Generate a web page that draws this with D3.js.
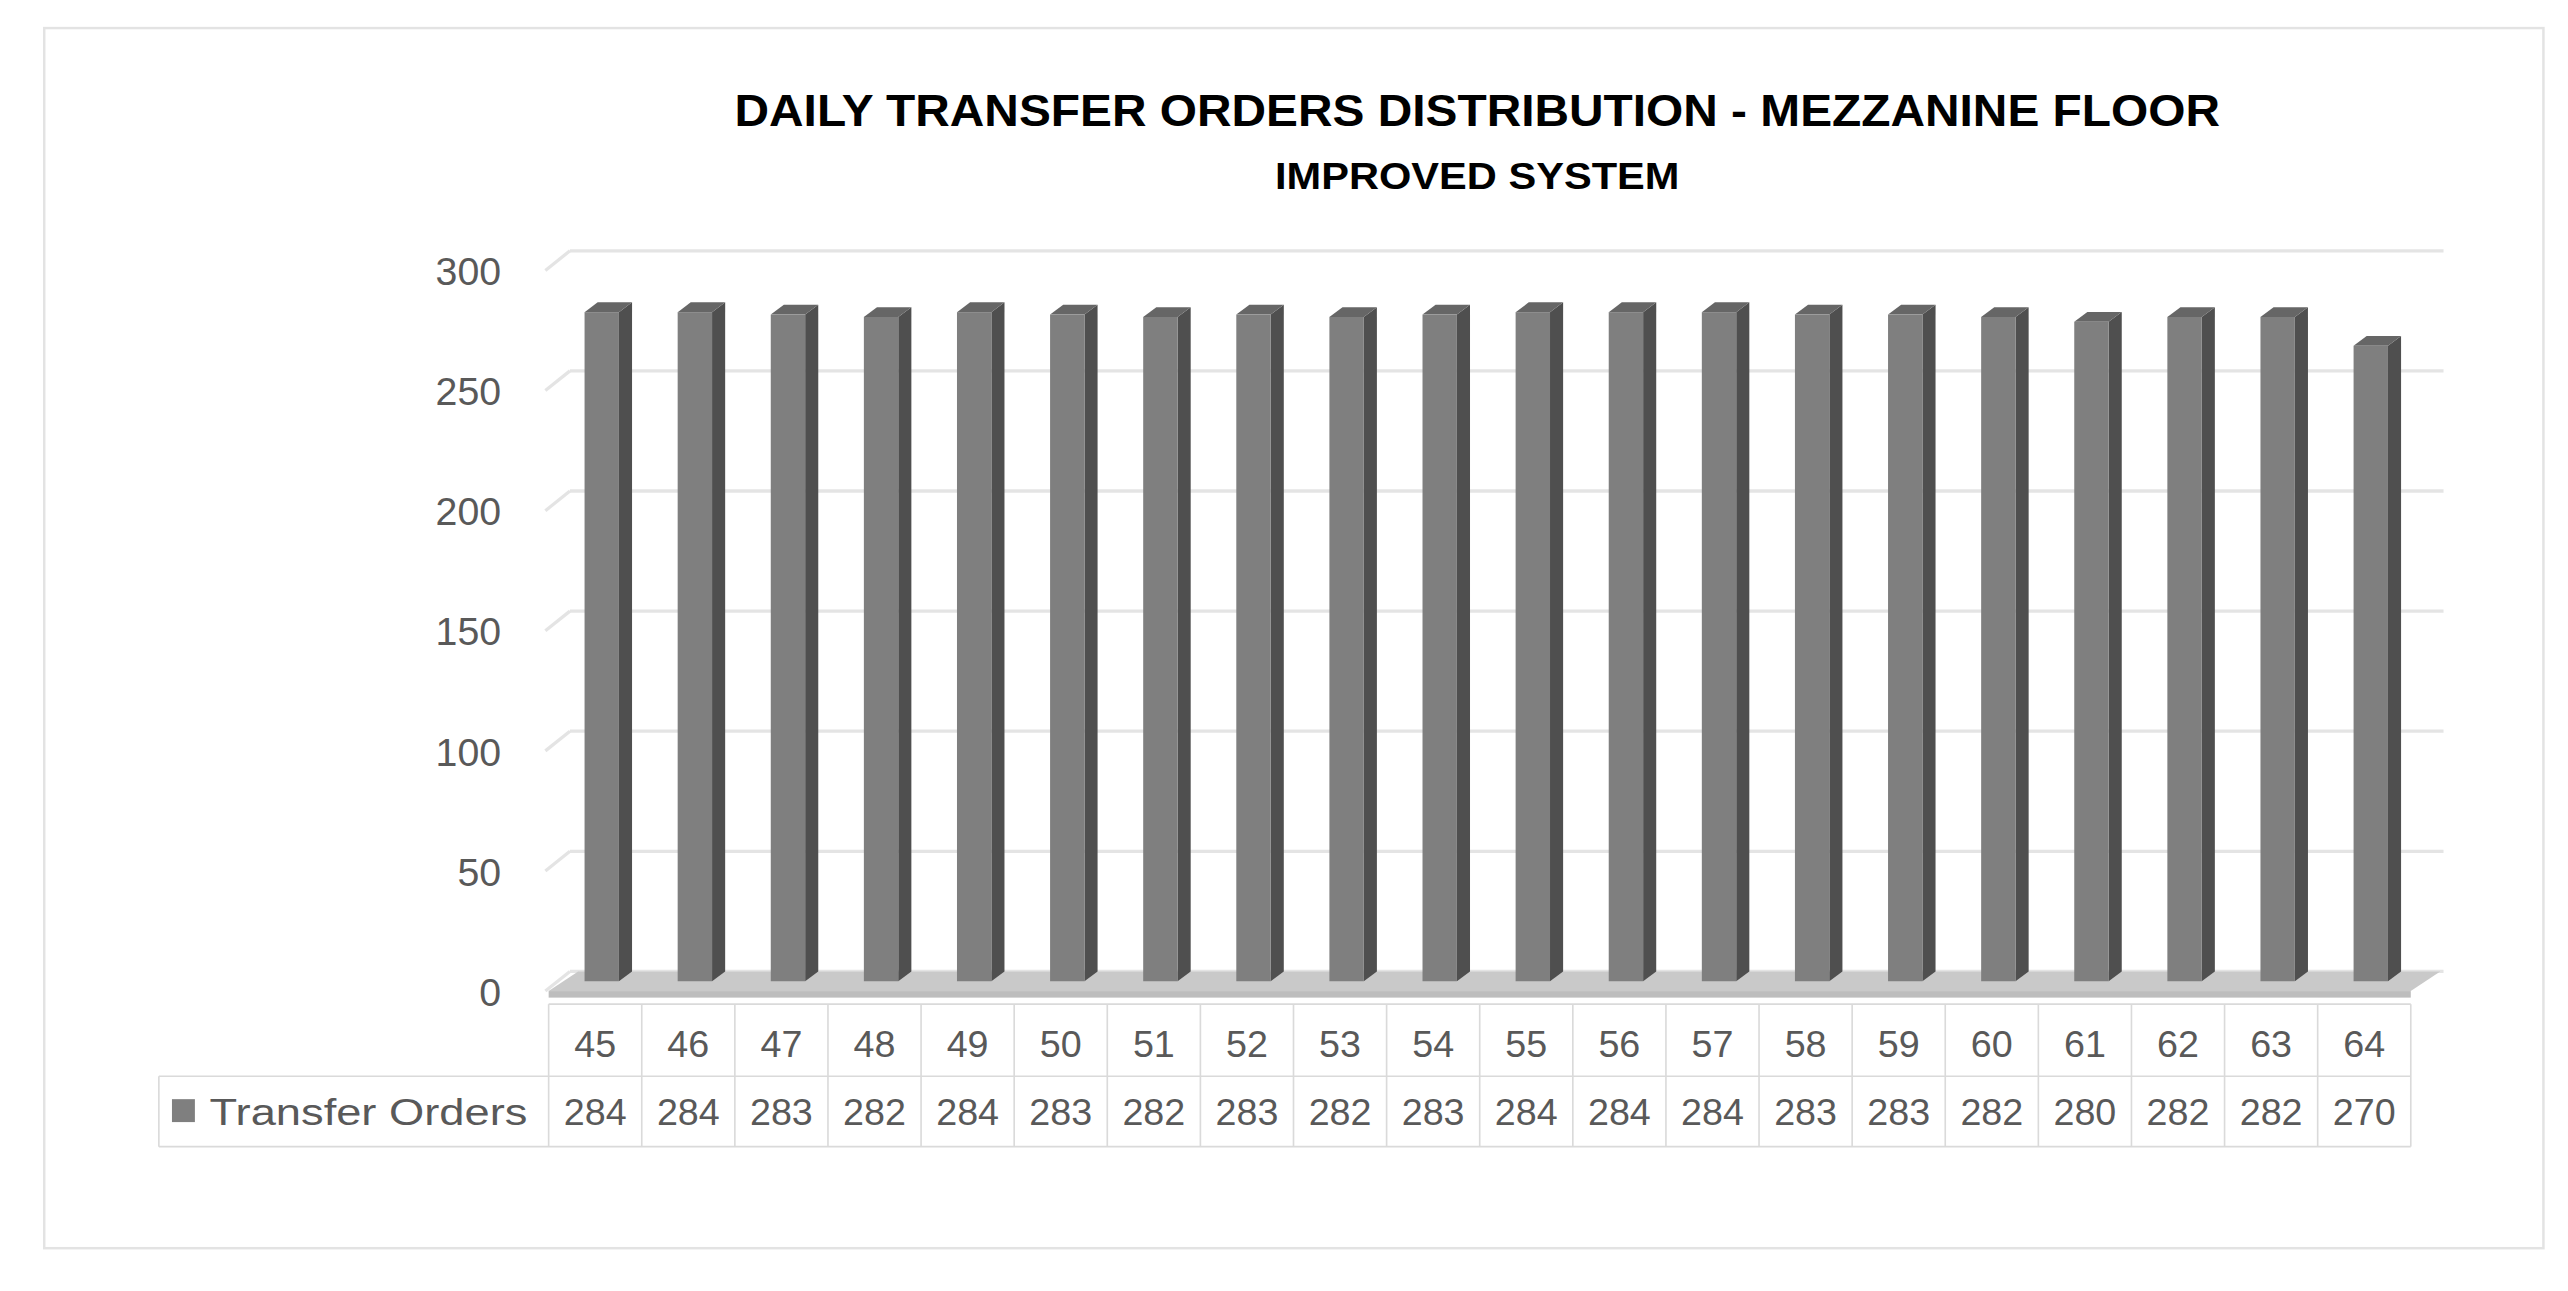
<!DOCTYPE html>
<html><head><meta charset="utf-8">
<script src="https://cdn.jsdelivr.net/npm/d3@7"></script>
<style>body{margin:0;background:#fff}svg{display:block}</style>
</head><body>
<script>
const categories = ["45","46","47","48","49","50","51","52","53","54","55","56","57","58","59","60","61","62","63","64"];
const values = [284,284,283,282,284,283,282,283,282,283,284,284,284,283,283,282,280,282,282,270];
const yTicks = [0,50,100,150,200,250,300];
const seriesName = "Transfer Orders";

const svg = d3.select("body").append("svg")
  .attr("width",2568).attr("height",1291)
  .attr("viewBox","0 0 1568 788");
const font = "'Liberation Sans', Arial, sans-serif";
const txt = "#595959";

svg.append("rect").attr("x",27).attr("y",17).attr("width",1526).attr("height",745)
  .attr("fill","#fff").attr("stroke","#e3e3e3").attr("stroke-width",1.5);

svg.append("text").attr("x",902).attr("y",77).attr("text-anchor","middle")
  .attr("font-family",font).attr("font-weight","bold").attr("font-size",27).attr("fill","#000")
  .attr("textLength",907).attr("lengthAdjust","spacingAndGlyphs")
  .text("DAILY TRANSFER  ORDERS DISTRIBUTION - MEZZANINE FLOOR");
svg.append("text").attr("x",902).attr("y",115).attr("text-anchor","middle")
  .attr("font-family",font).attr("font-weight","bold").attr("font-size",23).attr("fill","#000")
  .attr("textLength",247).attr("lengthAdjust","spacingAndGlyphs")
  .text("IMPROVED SYSTEM");

const x = d3.scaleBand().domain(categories).range([335,1472]);
const y = d3.scaleLinear().domain([0,300]).range([605,165]);
const dx = 15, dy = -12;

// gridlines (back wall + side)
const g = svg.append("g");
yTicks.forEach(t=>{
  g.append("line").attr("x1",333+dx).attr("x2",1492).attr("y1",y(t)+dy).attr("y2",y(t)+dy)
    .attr("stroke","#e4e4e4").attr("stroke-width",2);
  g.append("line").attr("x1",333).attr("x2",333+dx).attr("y1",y(t)).attr("y2",y(t)+dy)
    .attr("stroke","#e4e4e4").attr("stroke-width",2);
  g.append("text").attr("x",306).attr("y",y(t)+9).attr("text-anchor","end")
    .attr("font-family",font).attr("font-size",24).attr("fill",txt).text(t);
});

// floor
svg.append("polygon").attr("points",[[335,y(0)],[1472,y(0)],[1472+dx+3,y(0)+dy],[335+dx+3,y(0)+dy]].map(p=>p.join(",")).join(" "))
  .attr("fill","#c9c9c9");
svg.append("rect").attr("x",335).attr("y",y(0)).attr("width",1137).attr("height",4).attr("fill","#bdbdbd");

// bars
const bw = 21, bd = 8, bdy = -6;
const bars = svg.append("g").selectAll("g").data(categories.map((c,i)=>({c,v:values[i]}))).join("g");
bars.each(function(d){
  const s = d3.select(this);
  const x0 = x(d.c)+x.bandwidth()/2-6.5, x1 = x0+bw;
  const yt = y(d.v)+2, yb = y(0)-6;
  s.append("polygon").attr("points",[[x1,yt],[x1+bd,yt+bdy],[x1+bd,yb+bdy],[x1,yb]].map(p=>p.join(",")).join(" ")).attr("fill","#4f4f4f");
  s.append("polygon").attr("points",[[x0,yt],[x0+bd,yt+bdy],[x1+bd,yt+bdy],[x1,yt]].map(p=>p.join(",")).join(" ")).attr("fill","#666");
  s.append("rect").attr("x",x0).attr("y",yt).attr("width",bw).attr("height",yb-yt).attr("fill","#7f7f7f");
});

// data table
const tb = svg.append("g");
const r1 = 613, r2 = 657, r3 = 700, bc = "#dadada";
tb.append("line").attr("x1",335).attr("x2",1472).attr("y1",r1).attr("y2",r1).attr("stroke",bc);
tb.append("line").attr("x1",97).attr("x2",1472).attr("y1",r2).attr("y2",r2).attr("stroke",bc);
tb.append("line").attr("x1",97).attr("x2",1472).attr("y1",r3).attr("y2",r3).attr("stroke",bc);
tb.append("line").attr("x1",97).attr("x2",97).attr("y1",r2).attr("y2",r3).attr("stroke",bc);
categories.forEach((c,i)=>{
  tb.append("line").attr("x1",x(c)).attr("x2",x(c)).attr("y1",r1).attr("y2",r3).attr("stroke",bc);
  tb.append("text").attr("x",x(c)+x.bandwidth()/2).attr("y",645).attr("text-anchor","middle")
    .attr("font-family",font).attr("font-size",23).attr("fill",txt).text(c);
  tb.append("text").attr("x",x(c)+x.bandwidth()/2).attr("y",687).attr("text-anchor","middle")
    .attr("font-family",font).attr("font-size",23).attr("fill",txt).text(values[i]);
});
tb.append("line").attr("x1",1472).attr("x2",1472).attr("y1",r1).attr("y2",r3).attr("stroke",bc);
tb.append("rect").attr("x",105).attr("y",671).attr("width",14).attr("height",14).attr("fill","#7f7f7f");
tb.append("text").attr("x",128).attr("y",687).attr("font-family",font).attr("font-size",23).attr("fill",txt)
  .attr("textLength",194).attr("lengthAdjust","spacingAndGlyphs").text(seriesName);
</script>
</body></html>
